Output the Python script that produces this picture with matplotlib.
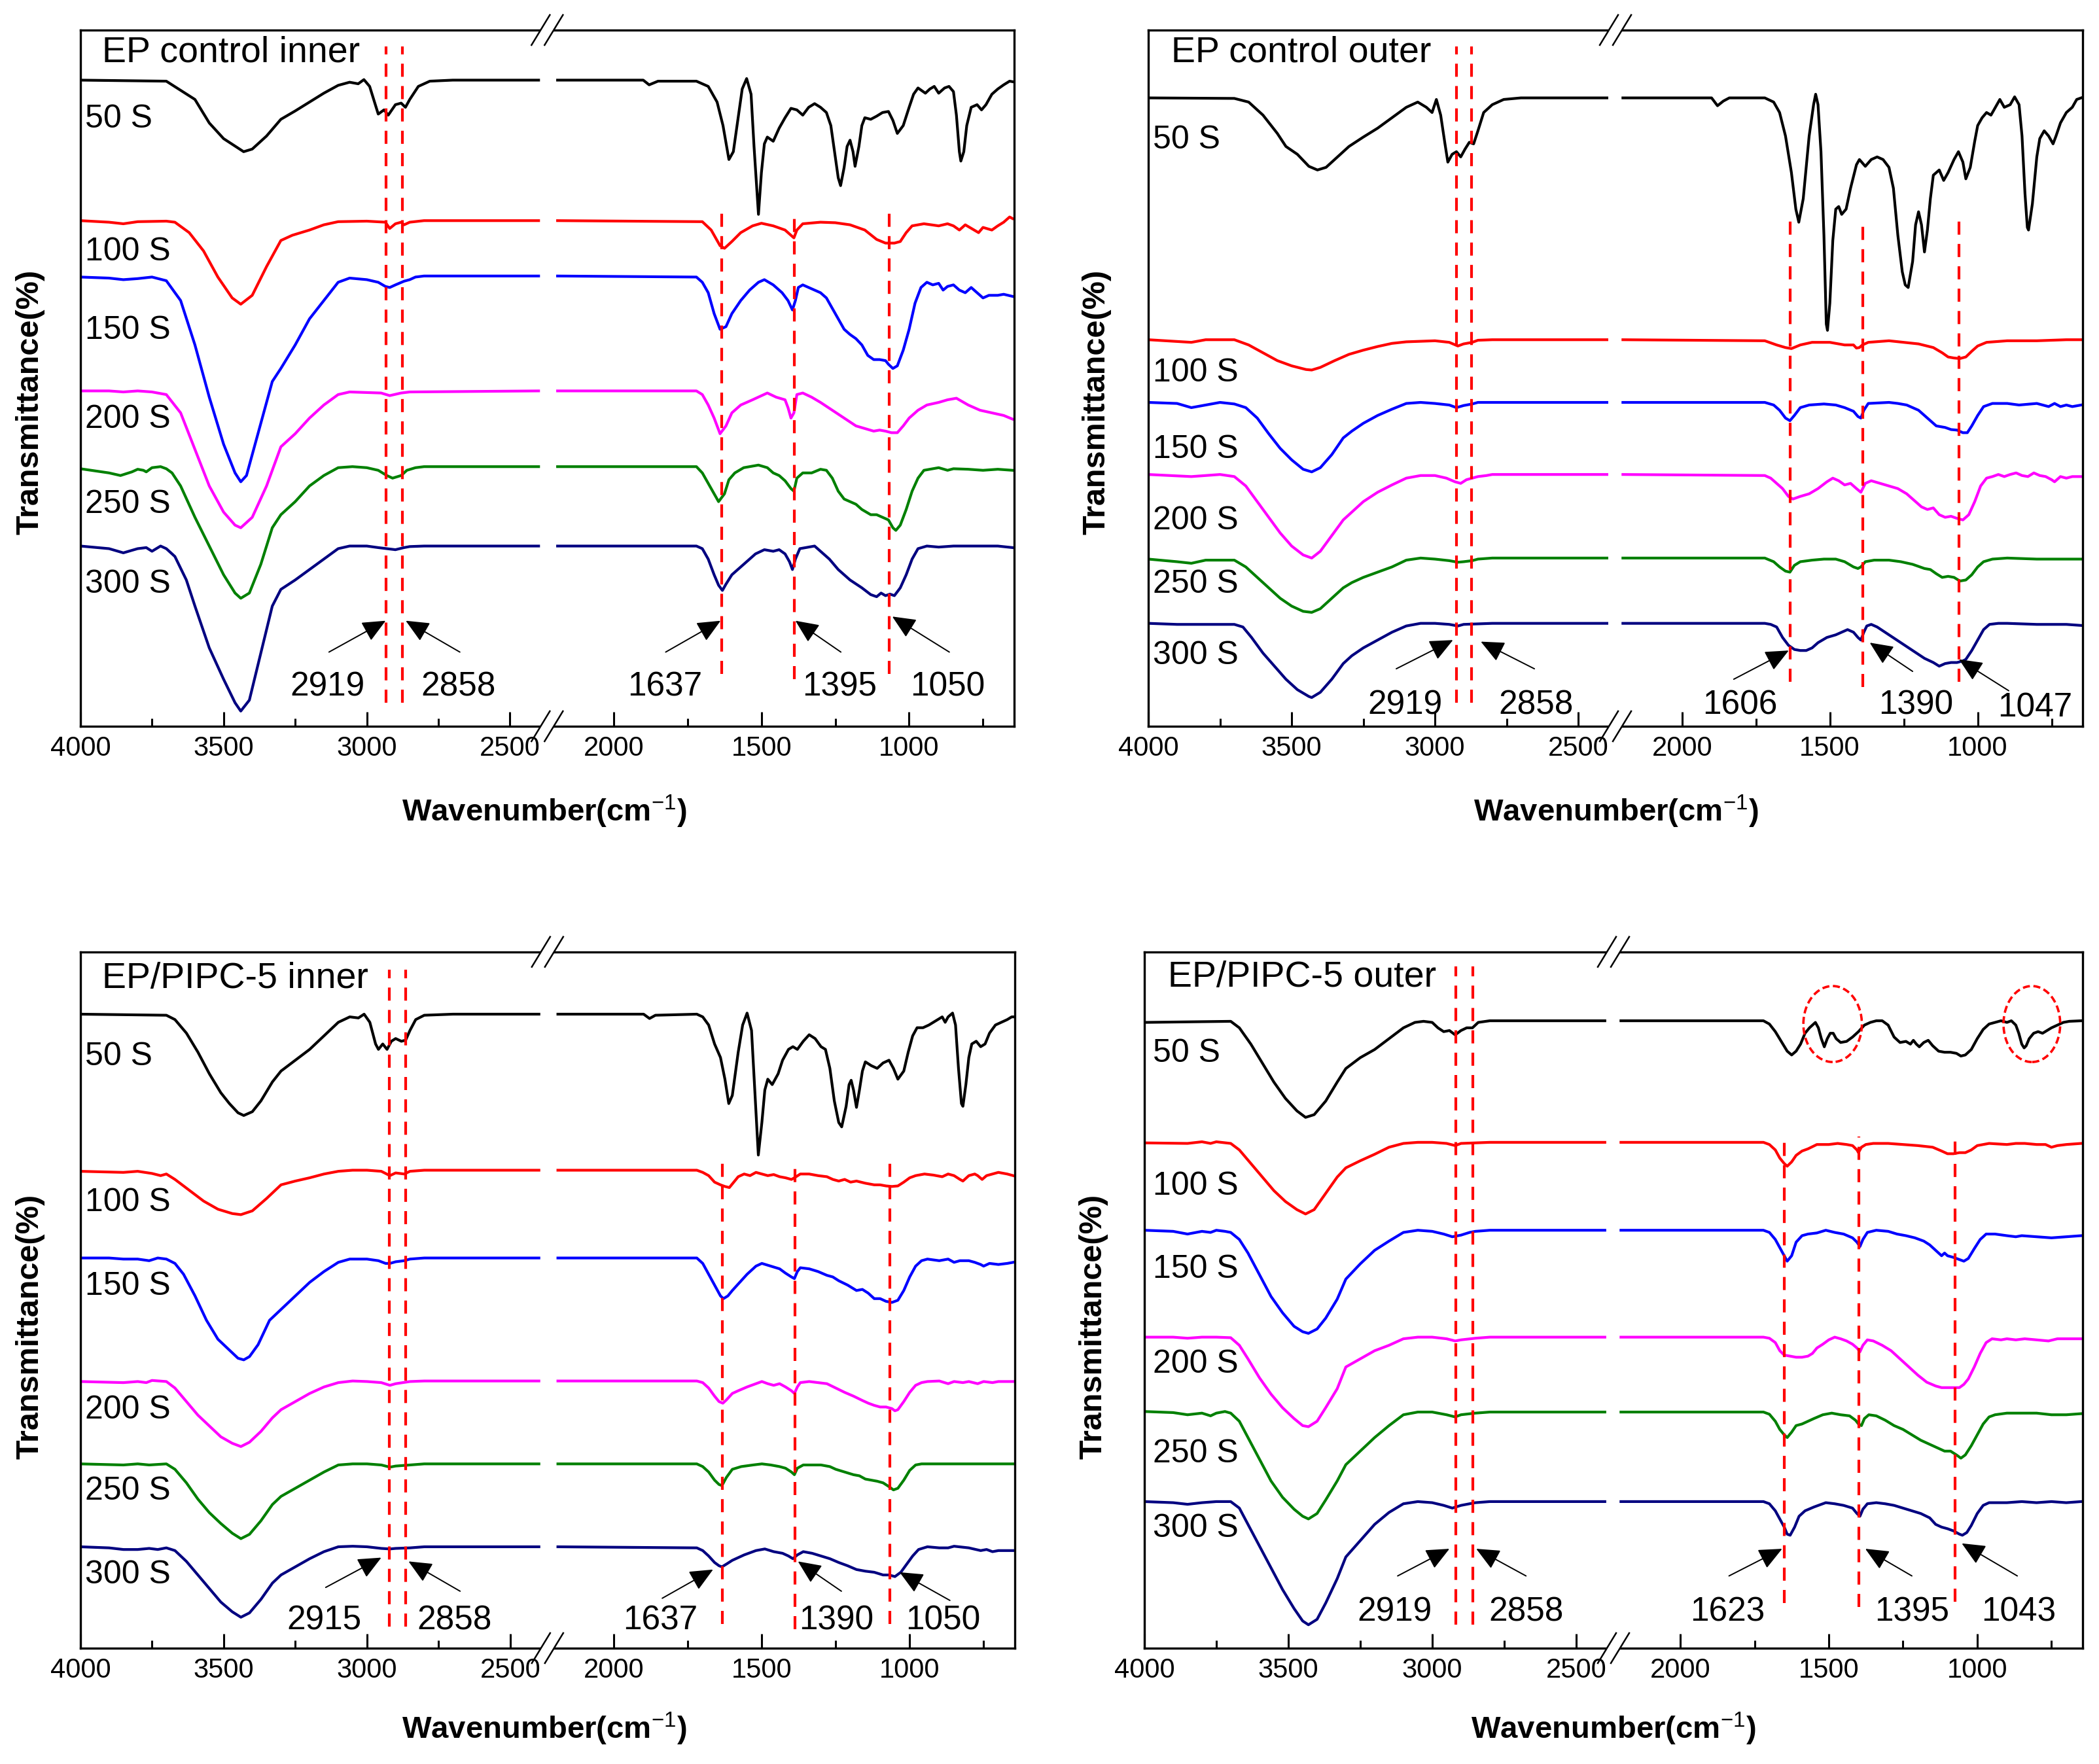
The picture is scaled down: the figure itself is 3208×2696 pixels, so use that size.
import matplotlib
matplotlib.use('Agg')
import matplotlib.pyplot as plt
import matplotlib.patches as mpatches

plt.rcParams['font.family'] = ['Liberation Sans', 'DejaVu Sans']
plt.rcParams['mathtext.fontset'] = 'custom'
plt.rcParams['mathtext.rm'] = 'Liberation Sans'
plt.rcParams['mathtext.it'] = 'Liberation Sans:italic'
plt.rcParams['mathtext.bf'] = 'Liberation Sans:bold'

####################### spectra (wavenumber, transmittance a.u.) #######################
samples = ['50 S', '100 S', '150 S', '200 S', '250 S', '300 S']
colors = ['black', 'red', 'blue', 'magenta', 'green', 'navy']

# EP control inner
ci_50 = [(4000,1237),(3700,1235),(3600,1200),(3550,1155),(3500,1125),(3430,1100),(3400,1105),(3350,1130),(3300,1162),(3250,1178),(3200,1195),(3150,1212),(3100,1227),(3060,1233),(3030,1230),(3010,1238),(2990,1225),(2960,1172),(2940,1180),(2925,1170),(2900,1190),(2880,1193),(2865,1185),(2850,1200),(2820,1225),(2780,1235),(2700,1237),(2400,1237),
         (2190,1237),(1900,1237),(1880,1228),(1850,1235),(1720,1235),(1680,1225),(1650,1195),(1630,1150),(1610,1085),(1595,1100),(1580,1160),(1565,1220),(1550,1240),(1535,1210),(1525,1110),(1510,980),(1500,1060),(1490,1115),(1480,1128),(1460,1120),(1440,1145),(1420,1165),(1400,1183),(1380,1180),(1360,1170),(1340,1185),(1320,1192),(1300,1185),(1280,1175),(1265,1150),(1250,1090),(1240,1050),(1232,1035),(1220,1070),(1210,1110),(1200,1122),(1190,1100),(1183,1072),(1170,1110),(1160,1150),(1150,1165),(1130,1162),(1110,1168),(1090,1175),(1070,1177),(1055,1160),(1040,1135),(1020,1150),(1000,1185),(985,1210),(970,1222),(960,1218),(945,1212),(930,1220),(915,1225),(900,1212),(880,1222),(865,1225),(850,1215),(840,1170),(830,1100),(825,1082),(815,1100),(805,1150),(790,1185),(770,1190),(755,1180),(740,1190),(720,1210),(700,1220),(680,1228),(660,1235),(650,1234)]
ci_100 = [(4000,968),(3900,965),(3850,962),(3800,966),(3700,967),(3670,965),(3620,945),(3570,910),(3520,860),(3470,820),(3440,808),(3400,825),(3350,880),(3300,930),(3260,940),(3200,950),(3150,960),(3100,966),(3000,967),(2935,965),(2920,953),(2900,962),(2880,965),(2870,960),(2850,965),(2800,968),(2400,968),
          (2190,968),(1700,966),(1670,950),(1640,920),(1625,915),(1600,928),(1570,945),(1530,958),(1500,963),(1460,958),(1420,950),(1400,940),(1390,935),(1380,950),(1360,962),(1300,965),(1250,964),(1200,960),(1150,950),(1110,932),(1080,925),(1050,925),(1030,928),(1010,945),(990,958),(950,962),(900,958),(870,962),(850,958),(830,950),(810,960),(780,950),(765,945),(750,955),(720,950),(700,958),(680,965),(660,975),(650,972)]
ci_150 = [(4000,860),(3900,858),(3850,855),(3800,857),(3750,860),(3700,853),(3650,815),(3600,730),(3550,630),(3500,540),(3460,485),(3440,468),(3420,480),(3380,560),(3330,660),(3300,685),(3250,730),(3200,780),(3150,815),(3100,850),(3060,858),(3000,855),(2960,850),(2935,842),(2920,840),(2900,845),(2870,852),(2850,855),(2830,860),(2800,862),(2400,862),
          (2190,862),(1720,860),(1700,850),(1680,830),(1660,790),(1640,760),(1620,765),(1600,790),(1570,815),(1540,835),(1510,850),(1490,855),(1460,845),(1430,830),(1410,815),(1395,797),(1385,815),(1375,840),(1360,845),(1340,840),(1320,835),(1300,830),(1280,820),(1260,800),(1240,780),(1220,760),(1200,750),(1180,742),(1160,730),(1140,710),(1120,702),(1100,702),(1080,700),(1070,693),(1055,685),(1040,690),(1020,720),(1000,760),(980,810),(960,840),(940,850),(920,845),(900,848),(885,835),(870,842),(850,845),(830,835),(810,830),(790,840),(770,830),(750,820),(730,825),(700,825),(680,827),(650,823)]
ci_200 = [(4000,642),(3900,642),(3850,640),(3800,642),(3750,640),(3700,635),(3650,600),(3600,530),(3550,460),(3500,410),(3460,385),(3440,380),(3400,400),(3350,460),(3300,535),(3250,560),(3200,590),(3150,615),(3100,635),(3060,640),(2950,638),(2920,633),(2880,638),(2850,640),(2400,642),
          (2190,642),(1720,642),(1700,635),(1680,615),(1660,590),(1640,560),(1620,575),(1600,600),(1570,615),(1530,625),(1480,638),(1450,630),(1420,625),(1410,610),(1400,590),(1390,600),(1380,635),(1360,638),(1330,630),(1300,620),(1260,605),(1220,590),(1180,575),(1150,570),(1120,565),(1100,567),(1080,565),(1060,562),(1040,562),(1020,575),(1000,590),(970,605),(940,615),(900,620),(870,625),(840,628),(800,615),(760,605),(720,600),(680,595),(650,588)]
ci_250 = [(4000,493),(3900,485),(3860,480),(3820,487),(3800,492),(3780,490),(3770,487),(3750,495),(3720,497),(3700,493),(3680,485),(3650,460),(3600,400),(3550,345),(3500,290),(3460,255),(3440,245),(3410,255),(3370,310),(3330,380),(3300,405),(3250,430),(3200,460),(3150,480),(3100,495),(3050,497),(3000,495),(2960,490),(2930,480),(2910,475),(2880,480),(2860,490),(2830,495),(2800,497),(2400,497),
          (2190,497),(1720,497),(1700,485),(1680,465),(1660,445),(1645,430),(1625,445),(1610,472),(1590,485),(1560,495),(1510,500),(1480,495),(1460,485),(1440,480),(1420,470),(1400,455),(1390,450),(1380,475),(1360,485),(1330,485),(1300,492),(1280,490),(1260,475),(1240,450),(1220,435),(1200,430),(1180,425),(1160,415),(1130,405),(1110,405),(1090,400),(1070,395),(1055,380),(1045,375),(1030,385),(1010,415),(990,450),(970,475),(950,490),(930,492),(900,495),(870,490),(850,493),(800,492),(750,490),(700,492),(650,490)]
ci_300 = [(4000,345),(3900,340),(3850,332),(3800,340),(3770,342),(3750,335),(3720,345),(3700,340),(3670,325),(3630,280),(3600,230),(3550,150),(3500,90),(3460,45),(3440,29),(3410,50),(3370,140),(3330,230),(3300,262),(3250,280),(3200,300),(3150,320),(3100,340),(3060,345),(3000,345),(2960,342),(2930,340),(2900,338),(2870,342),(2850,344),(2800,345),(2400,345),
          (2190,345),(1720,345),(1700,340),(1680,320),(1660,290),(1645,270),(1632,260),(1620,272),(1600,290),(1580,300),(1550,315),(1520,330),(1490,338),(1460,335),(1440,338),(1420,330),(1405,315),(1395,300),(1385,320),(1370,340),(1350,342),(1320,345),(1300,335),(1270,320),(1240,300),(1200,280),(1160,265),(1130,252),(1110,248),(1095,255),(1080,250),(1065,253),(1050,250),(1030,265),(1010,290),(990,320),(970,340),(940,345),(900,343),(850,345),(800,345),(750,345),(700,345),(650,342)]

# EP control outer
co_50 = [(4000,1203),(3700,1202),(3650,1195),(3600,1170),(3550,1135),(3520,1110),(3480,1095),(3440,1072),(3410,1065),(3380,1070),(3350,1085),(3300,1110),(3250,1128),(3200,1145),(3150,1165),(3100,1185),(3060,1195),(3030,1185),(3010,1175),(2995,1200),(2980,1170),(2965,1115),(2955,1080),(2940,1095),(2925,1100),(2910,1090),(2895,1105),(2880,1118),(2865,1115),(2850,1140),(2830,1175),(2800,1190),(2760,1200),(2700,1203),(2400,1203),
         (2200,1203),(1900,1203),(1880,1188),(1860,1197),(1840,1203),(1720,1203),(1690,1195),(1670,1175),(1650,1130),(1630,1060),(1615,990),(1605,965),(1590,1010),(1570,1130),(1555,1190),(1548,1210),(1540,1190),(1530,1100),(1520,940),(1512,770),(1508,758),(1500,810),(1490,930),(1480,990),(1470,995),(1460,980),(1445,990),(1430,1030),(1410,1075),(1400,1085),(1380,1072),(1360,1085),(1340,1090),(1320,1085),(1300,1070),(1285,1030),(1270,940),(1255,870),(1245,845),(1235,840),(1220,890),(1210,960),(1200,985),(1190,960),(1180,908),(1170,950),(1160,1010),(1150,1055),(1130,1065),(1115,1045),(1100,1060),(1080,1085),(1065,1100),(1050,1080),(1040,1048),(1025,1070),(1010,1120),(1000,1150),(985,1165),(970,1175),(955,1170),(940,1185),(925,1200),(910,1185),(890,1190),(875,1205),(860,1190),(850,1130),(840,1020),(832,955),(828,950),(815,1000),(800,1090),(790,1125),(775,1140),(760,1130),(745,1115),(735,1130),(720,1155),(700,1175),(680,1185),(665,1200),(650,1203)]
co_100 = [(4000,740),(3850,735),(3800,740),(3700,740),(3650,730),(3600,715),(3550,700),(3500,690),(3450,683),(3430,682),(3400,687),(3350,700),(3300,712),(3250,720),(3200,727),(3150,733),(3100,736),(3000,738),(2950,735),(2920,728),(2900,732),(2870,735),(2850,739),(2800,740),(2400,740),
          (2200,740),(1720,738),(1700,734),(1680,730),(1650,725),(1630,723),(1600,730),(1560,735),(1500,735),(1450,730),(1420,730),(1410,724),(1400,725),(1390,730),(1370,735),(1300,738),(1250,735),(1200,732),(1150,725),(1120,715),(1100,707),(1080,705),(1060,704),(1040,707),(1020,718),(1000,728),(970,735),(900,738),(800,738),(700,740),(650,740)]
co_150 = [(4000,620),(3900,618),(3850,610),(3800,615),(3750,620),(3700,617),(3660,610),(3620,590),(3580,560),(3540,532),(3500,510),(3460,492),(3430,487),(3400,495),(3360,520),(3320,552),(3290,565),(3250,580),(3200,595),(3150,607),(3100,618),(3050,620),(3000,618),(2950,615),(2925,610),(2900,614),(2870,617),(2850,620),(2400,620),
          (2200,620),(1720,620),(1690,615),(1670,605),(1650,590),(1635,585),(1620,595),(1600,610),(1570,615),(1520,617),(1480,615),(1450,610),(1420,603),(1405,593),(1395,590),(1385,605),(1370,618),(1300,620),(1270,618),(1240,615),(1200,605),(1170,590),(1140,575),(1110,572),(1090,568),(1070,567),(1050,562),(1035,562),(1020,575),(1000,595),(980,612),(950,618),(900,618),(860,615),(800,618),(760,612),(740,618),(720,612),(700,615),(680,612),(650,615)]
co_200 = [(4000,482),(3850,478),(3800,480),(3750,482),(3700,478),(3660,460),(3620,430),(3580,400),(3540,370),(3500,345),(3460,328),(3430,322),(3400,335),(3360,365),(3320,395),(3290,410),(3250,430),(3200,448),(3150,462),(3100,475),(3050,480),(3000,480),(2960,475),(2930,468),(2910,465),(2890,472),(2870,475),(2850,478),(2820,480),(2800,482),(2400,482),
          (2200,482),(1720,480),(1700,475),(1680,465),(1660,455),(1640,440),(1625,435),(1600,440),(1570,445),(1540,455),(1510,468),(1490,475),(1470,470),(1450,462),(1430,465),(1410,455),(1395,448),(1380,465),(1360,470),(1330,465),(1300,460),(1270,455),(1240,445),(1210,430),(1190,420),(1170,415),(1150,418),(1130,405),(1110,400),(1090,402),(1070,398),(1050,395),(1030,405),(1010,430),(990,460),(970,475),(950,478),(930,482),(910,478),(890,482),(870,485),(850,480),(830,478),(810,485),(790,480),(770,478),(750,472),(740,468),(720,478),(700,475),(680,478),(650,478)]
co_250 = [(4000,320),(3900,315),(3850,312),(3800,318),(3750,318),(3700,318),(3660,305),(3620,285),(3580,265),(3540,245),(3500,230),(3460,220),(3430,218),(3400,225),(3360,245),(3320,265),(3290,275),(3250,285),(3200,295),(3150,305),(3100,318),(3050,322),(3000,320),(2950,317),(2920,314),(2900,315),(2870,317),(2850,320),(2800,322),(2400,322),
          (2200,322),(1720,322),(1690,315),(1670,305),(1650,297),(1635,295),(1620,308),(1600,315),(1560,318),(1520,320),(1480,320),(1450,315),(1420,305),(1405,302),(1395,305),(1380,315),(1350,318),(1300,318),(1260,315),(1220,310),(1180,302),(1160,300),(1140,292),(1120,285),(1100,287),(1080,285),(1060,278),(1040,280),(1020,290),(1000,305),(980,315),(950,320),(900,322),(800,320),(700,320),(650,320)]
co_300 = [(4000,197),(3900,195),(3800,195),(3700,195),(3670,190),(3640,170),(3600,140),(3560,115),(3520,90),(3480,70),(3440,57),(3430,55),(3400,65),(3360,90),(3320,120),(3290,135),(3250,150),(3200,165),(3150,180),(3100,192),(3050,197),(3000,197),(2950,195),(2920,192),(2900,195),(2800,197),(2400,197),
          (2200,197),(1720,197),(1700,195),(1680,190),(1660,170),(1640,155),(1620,147),(1600,145),(1580,145),(1560,150),(1540,160),(1510,170),(1480,175),(1460,180),(1440,185),(1420,180),(1405,170),(1395,165),(1385,180),(1375,192),(1360,195),(1340,190),(1300,175),(1260,160),(1220,145),(1180,130),(1150,122),(1130,115),(1110,120),(1090,122),(1070,122),(1050,125),(1040,128),(1020,145),(1000,165),(980,185),(960,195),(930,197),(900,197),(800,195),(700,195),(650,193)]

# EP/PIPC-5 inner
pi_50 = [(4000,1170),(3700,1168),(3670,1160),(3630,1135),(3590,1100),(3550,1060),(3510,1025),(3480,1005),(3450,988),(3430,983),(3400,990),(3370,1010),(3330,1045),(3300,1065),(3250,1085),(3200,1105),(3150,1130),(3100,1155),(3060,1165),(3030,1163),(3010,1170),(2990,1155),(2970,1115),(2960,1105),(2945,1115),(2930,1105),(2915,1120),(2900,1125),(2880,1120),(2865,1122),(2850,1140),(2830,1160),(2800,1168),(2700,1170),(2400,1170),
         (2190,1170),(1900,1170),(1880,1162),(1860,1168),(1720,1170),(1700,1165),(1680,1150),(1660,1115),(1640,1090),(1625,1050),(1612,1005),(1600,1020),(1580,1100),(1565,1150),(1550,1172),(1535,1140),(1525,1040),(1512,910),(1500,970),(1490,1030),(1480,1050),(1465,1040),(1445,1060),(1430,1085),(1410,1105),(1395,1110),(1380,1105),(1360,1120),(1340,1132),(1320,1125),(1300,1110),(1285,1105),(1270,1070),(1255,1010),(1240,970),(1230,962),(1215,1000),(1205,1040),(1198,1048),(1190,1030),(1180,998),(1170,1030),(1160,1065),(1150,1082),(1130,1075),(1110,1070),(1090,1080),(1070,1085),(1055,1070),(1040,1050),(1020,1065),(1005,1100),(990,1130),(975,1145),(955,1145),(935,1150),(920,1155),(905,1160),(890,1165),(880,1155),(870,1165),(855,1172),(845,1150),(835,1070),(825,1005),(820,1000),(810,1040),(800,1090),(790,1115),(775,1120),(760,1110),(745,1115),(730,1135),(710,1150),(690,1155),(670,1160),(655,1165),(650,1165)]
pi_100 = [(4000,880),(3850,878),(3800,880),(3750,876),(3720,872),(3700,875),(3670,865),(3620,845),(3570,825),(3520,810),(3470,802),(3440,800),(3400,807),(3350,830),(3300,855),(3250,862),(3200,868),(3150,875),(3100,880),(3050,882),(3000,882),(2950,880),(2920,872),(2900,877),(2870,875),(2850,880),(2800,882),(2400,882),
          (2190,882),(1720,882),(1700,878),(1680,872),(1660,860),(1640,855),(1625,852),(1610,850),(1595,860),(1580,870),(1560,875),(1540,872),(1520,878),(1500,875),(1480,872),(1460,874),(1440,870),(1420,868),(1400,865),(1390,868),(1370,875),(1340,875),(1310,872),(1280,870),(1260,865),(1240,862),(1220,865),(1200,860),(1180,862),(1150,858),(1120,855),(1100,855),(1080,853),(1060,852),(1040,853),(1020,860),(1000,868),(980,872),(950,875),(920,873),(890,870),(870,875),(850,872),(830,865),(820,862),(800,872),(780,875),(770,872),(755,865),(740,872),(720,875),(700,878),(670,875),(650,872)]
pi_150 = [(4000,720),(3900,720),(3850,718),(3800,718),(3760,715),(3730,720),(3700,718),(3670,710),(3640,690),(3600,650),(3560,605),(3520,570),(3480,550),(3450,535),(3430,532),(3410,538),(3380,560),(3340,605),(3300,625),(3250,650),(3200,675),(3150,695),(3100,712),(3060,718),(3000,718),(2960,715),(2935,710),(2920,710),(2900,713),(2870,715),(2850,718),(2800,720),(2400,720),
          (2190,720),(1720,720),(1700,710),(1680,690),(1660,670),(1640,650),(1630,645),(1615,650),(1600,660),(1580,672),(1550,690),(1520,705),(1500,710),(1470,705),(1440,700),(1420,692),(1400,685),(1390,682),(1380,695),(1370,702),(1340,700),(1310,695),(1280,688),(1260,685),(1240,678),(1210,670),(1180,660),(1160,662),(1140,655),(1120,645),(1100,645),(1080,640),(1060,638),(1040,642),(1020,660),(1000,685),(980,705),(960,715),(940,718),(900,715),(870,718),(850,712),(830,715),(800,715),(780,712),(760,708),(750,705),(730,710),(700,708),(670,710),(650,712)]
pi_200 = [(4000,492),(3850,490),(3800,492),(3770,490),(3750,494),(3700,492),(3670,480),(3630,455),(3590,430),(3550,410),(3510,390),(3470,378),(3440,372),(3410,380),(3370,400),(3330,425),(3300,440),(3250,455),(3200,470),(3150,482),(3100,490),(3050,493),(3000,492),(2950,490),(2920,485),(2900,488),(2850,492),(2800,493),(2400,493),
          (2190,493),(1720,493),(1700,490),(1680,480),(1660,465),(1645,455),(1632,452),(1620,458),(1600,470),(1580,475),(1550,482),(1520,488),(1500,492),(1480,488),(1460,485),(1440,488),(1420,482),(1400,475),(1390,470),(1380,482),(1370,490),(1340,492),(1310,490),(1280,488),(1250,480),(1220,472),(1190,465),(1160,457),(1140,452),(1120,448),(1100,445),(1080,445),(1060,442),(1050,438),(1040,440),(1020,455),(1000,472),(980,485),(960,490),(940,492),(900,493),(870,488),(850,492),(820,490),(800,492),(770,488),(750,492),(720,490),(700,492),(650,492)]
pi_250 = [(4000,340),(3850,338),(3800,340),(3760,338),(3700,340),(3670,330),(3630,305),(3590,275),(3550,250),(3510,230),(3470,212),(3440,202),(3410,210),(3370,235),(3330,265),(3300,280),(3250,295),(3200,310),(3150,325),(3100,338),(3050,340),(3000,340),(2950,338),(2920,334),(2900,336),(2850,338),(2800,340),(2400,340),
          (2190,340),(1720,340),(1700,335),(1680,325),(1660,310),(1645,302),(1635,300),(1620,315),(1600,330),(1570,335),(1530,338),(1500,340),(1470,338),(1440,335),(1420,332),(1400,325),(1390,320),(1380,332),(1360,338),(1330,338),(1300,338),(1270,335),(1250,330),(1220,325),(1190,320),(1170,318),(1150,312),(1130,310),(1110,308),(1090,305),(1070,298),(1055,292),(1040,295),(1020,310),(1000,328),(980,338),(960,340),(900,340),(800,340),(700,340),(650,340)]
pi_300 = [(4000,187),(3900,185),(3850,182),(3800,182),(3760,184),(3730,182),(3700,185),(3670,180),(3630,160),(3590,135),(3550,110),(3510,85),(3470,67),(3440,57),(3410,65),(3370,90),(3330,120),(3300,135),(3250,150),(3200,165),(3150,178),(3100,187),(3050,188),(3000,187),(2950,184),(2920,183),(2900,184),(2850,185),(2800,187),(2400,187),
          (2190,187),(1720,185),(1700,180),(1680,170),(1660,158),(1645,152),(1635,150),(1620,155),(1600,162),(1560,172),(1520,180),(1490,183),(1460,178),(1430,175),(1410,170),(1395,165),(1380,172),(1360,178),(1330,175),(1300,170),(1270,165),(1240,158),(1210,152),(1180,145),(1150,142),(1120,140),(1090,135),(1070,135),(1050,132),(1030,140),(1010,155),(990,170),(970,182),(940,187),(900,185),(870,185),(850,188),(800,185),(760,180),(740,182),(720,178),(700,180),(650,180)]

# EP/PIPC-5 outer
po_50 = [(4000,1153),(3700,1155),(3670,1143),(3630,1113),(3590,1078),(3550,1043),(3510,1013),(3470,990),(3440,978),(3410,983),(3370,1008),(3330,1043),(3300,1068),(3250,1088),(3200,1103),(3150,1123),(3100,1143),(3060,1153),(3030,1155),(3000,1153),(2980,1143),(2960,1136),(2940,1138),(2920,1130),(2900,1138),(2880,1143),(2860,1143),(2840,1153),(2800,1156),(2400,1156),
         (2200,1156),(1720,1156),(1700,1150),(1680,1136),(1660,1118),(1640,1100),(1625,1093),(1610,1100),(1595,1113),(1580,1133),(1565,1143),(1555,1148),(1545,1153),(1535,1143),(1525,1123),(1515,1108),(1505,1123),(1495,1133),(1485,1133),(1475,1123),(1460,1116),(1440,1118),(1420,1126),(1400,1136),(1380,1148),(1360,1153),(1340,1156),(1320,1156),(1300,1148),(1280,1126),(1260,1116),(1240,1118),(1225,1113),(1215,1120),(1205,1113),(1195,1108),(1180,1116),(1165,1120),(1150,1110),(1130,1100),(1110,1098),(1090,1098),(1070,1096),(1055,1091),(1040,1093),(1020,1103),(1000,1123),(980,1140),(960,1150),(940,1153),(920,1156),(900,1153),(885,1156),(870,1148),(860,1133),(850,1113),(842,1106),(835,1110),(825,1123),(810,1133),(795,1136),(780,1133),(765,1138),(750,1143),(730,1148),(710,1153),(690,1155),(650,1156)]
po_100 = [(4000,931),(3850,930),(3800,933),(3770,930),(3750,933),(3700,930),(3670,918),(3630,893),(3590,868),(3550,843),(3510,823),(3470,808),(3440,800),(3410,808),(3370,838),(3330,868),(3300,885),(3250,898),(3200,910),(3150,923),(3100,930),(3050,932),(3000,932),(2950,930),(2920,926),(2900,930),(2850,931),(2800,932),(2400,932),
          (2200,932),(1720,932),(1700,928),(1680,918),(1665,903),(1650,893),(1640,888),(1625,896),(1610,908),(1590,916),(1570,920),(1540,928),(1500,928),(1470,930),(1440,928),(1420,926),(1405,918),(1400,913),(1390,923),(1375,928),(1350,930),(1300,930),(1250,928),(1200,926),(1150,923),(1120,916),(1100,911),(1080,911),(1060,913),(1040,913),(1020,918),(1000,926),(960,930),(900,928),(870,930),(840,930),(800,928),(770,928),(750,923),(730,926),(700,928),(650,930)]
po_150 = [(4000,770),(3900,768),(3850,763),(3800,768),(3770,766),(3750,770),(3720,768),(3700,766),(3670,753),(3640,728),(3600,688),(3560,648),(3520,618),(3480,593),(3450,583),(3430,580),(3400,588),(3370,608),(3330,643),(3300,680),(3250,708),(3200,733),(3150,750),(3100,766),(3050,770),(3000,768),(2960,763),(2930,758),(2900,761),(2870,766),(2850,768),(2800,770),(2400,770),
          (2200,770),(1720,770),(1700,766),(1680,753),(1665,738),(1650,723),(1640,713),(1625,723),(1610,748),(1590,760),(1570,763),(1540,765),(1510,770),(1480,766),(1450,763),(1420,756),(1405,748),(1395,740),(1385,753),(1370,766),(1340,770),(1300,768),(1270,763),(1240,760),(1210,756),(1180,750),(1160,743),(1140,733),(1120,723),(1110,728),(1100,723),(1080,720),(1060,716),(1045,713),(1030,718),(1010,736),(990,753),(970,763),(940,763),(900,760),(870,758),(850,760),(800,758),(750,756),(700,758),(650,760)]
po_200 = [(4000,573),(3900,573),(3850,571),(3800,573),(3750,573),(3700,572),(3670,558),(3640,533),(3600,498),(3560,468),(3520,443),(3480,423),(3450,410),(3430,408),(3400,418),(3370,443),(3330,478),(3300,518),(3250,533),(3200,548),(3150,558),(3100,570),(3050,573),(3000,573),(2950,570),(2920,566),(2900,568),(2850,571),(2800,573),(2400,573),
          (2200,573),(1720,573),(1700,571),(1680,563),(1665,548),(1650,540),(1630,538),(1610,536),(1590,536),(1570,538),(1555,543),(1540,553),(1520,560),(1500,568),(1480,573),(1460,570),(1440,566),(1420,560),(1405,553),(1395,546),(1385,558),(1370,568),(1350,566),(1320,558),(1290,548),(1260,533),(1230,518),(1200,503),(1170,490),(1140,483),(1120,480),(1100,480),(1080,480),(1060,480),(1045,486),(1030,496),(1010,518),(990,543),(970,563),(950,570),(920,568),(900,570),(870,568),(840,570),(800,568),(760,566),(730,570),(700,570),(650,570)]
po_250 = [(4000,436),(3900,434),(3850,430),(3800,433),(3770,428),(3750,433),(3720,436),(3700,433),(3670,418),(3640,388),(3600,348),(3560,308),(3520,278),(3480,256),(3450,243),(3430,238),(3400,248),(3370,273),(3330,308),(3300,338),(3250,363),(3200,388),(3150,410),(3100,430),(3050,435),(3000,435),(2950,430),(2920,426),(2900,430),(2850,433),(2800,435),(2400,435),
          (2200,435),(1720,435),(1700,431),(1680,418),(1665,403),(1650,393),(1640,388),(1625,398),(1610,410),(1590,413),(1570,418),(1550,423),(1520,430),(1490,433),(1460,430),(1430,428),(1410,420),(1400,413),(1390,410),(1380,423),(1365,430),(1340,428),(1310,420),(1280,410),(1250,403),(1220,393),(1190,383),(1170,378),(1150,373),(1130,368),(1110,363),(1090,363),(1070,356),(1055,350),(1040,356),(1020,373),(1000,393),(980,413),(960,426),(940,430),(900,433),(850,433),(800,433),(750,430),(700,430),(650,432)]
po_300 = [(4000,270),(3900,268),(3850,265),(3800,268),(3750,270),(3700,270),(3670,258),(3640,228),(3600,188),(3560,148),(3520,108),(3480,73),(3450,50),(3430,43),(3400,53),(3370,83),(3330,128),(3300,168),(3250,198),(3200,228),(3150,250),(3100,266),(3050,270),(3000,268),(2960,263),(2930,258),(2900,263),(2870,266),(2850,268),(2800,270),(2400,270),
          (2200,270),(1720,270),(1700,266),(1680,253),(1665,238),(1650,223),(1640,210),(1630,208),(1615,223),(1600,243),(1580,253),(1550,260),(1510,268),(1480,266),(1450,263),(1420,258),(1405,248),(1395,243),(1385,256),(1370,266),(1340,268),(1310,266),(1280,263),(1250,258),(1220,253),(1190,248),(1160,240),(1140,228),(1120,223),(1100,220),(1080,216),(1060,210),(1050,208),(1035,213),(1020,226),(1000,248),(980,263),(960,268),(900,268),(850,270),(800,268),(750,270),(700,268),(650,270)]

# peak marks (wavenumber of dashed guide lines) and their labels
ci_lines = [2932, 2876, 1634, 1389, 1068]
co_lines = [2926, 2872, 1635, 1388, 1063]
pi_lines = [2922, 2866, 1634, 1389, 1068]
po_lines = [2917, 2859, 1650, 1399, 1074]
ci_peaks = ['2919', '2858', '1637', '1395', '1050']
co_peaks = ['2919', '2858', '1606', '1390', '1047']
pi_peaks = ['2915', '2858', '1637', '1390', '1050']
po_peaks = ['2919', '2858', '1623', '1395', '1043']
##########################################################################################

W_PX, H_PX = 3208, 2696
fig = plt.figure(figsize=(W_PX / 100, H_PX / 100), dpi=100)
LINE_STYLE = (0, (4.8, 3.4))


def break_marks(axr, half_w, h):
    ax_w = half_w * W_PX
    ax_h = h * H_PX
    sx = lambda p: p / ax_w
    sy = lambda p: p / ax_h
    for yb in (0, 1):
        gap = mpatches.Polygon([(sx(-15), yb + sy(-9)), (sx(5), yb + sy(-9)),
                                (sx(15), yb + sy(9)), (sx(-5), yb + sy(9))],
                               closed=True, transform=axr.transAxes, facecolor='white',
                               edgecolor='none', clip_on=False, zorder=5)
        axr.add_patch(gap)
        for off in (-10, 10):
            axr.plot([sx(off - 14), sx(off + 14)], [yb + sy(-23), yb + sy(23)],
                     transform=axr.transAxes, color='black', lw=1.8, clip_on=False, zorder=6)


def draw_panel(rect, ymax, curves, title, title_xy, label_x, label_y, lines, spans,
               peaks, arrows, peak_xy, ylab_xy, xlab_xy, ellipses=()):
    x0, y0, w, h = rect
    axl = fig.add_axes([x0, y0, w / 2, h])
    axr = fig.add_axes([x0 + w / 2, y0, w / 2, h])
    axl.set_xlim(4000, 2370)
    axr.set_xlim(2225, 645)
    axl.set_xticks([4000, 3500, 3000, 2500])
    axl.set_xticks([3750, 3250, 2750], minor=True)
    axr.set_xticks([2000, 1500, 1000])
    axr.set_xticks([1750, 1250, 750], minor=True)
    for ax in (axl, axr):
        ax.set_facecolor('none')
        ax.set_ylim(0, ymax)
        ax.set_yticks([])
        ax.tick_params(axis='x', which='major', direction='in', length=16, width=2.2,
                       labelsize=30, pad=10)
        ax.tick_params(axis='x', which='minor', direction='in', length=8.5, width=2.2)
        for s in ax.spines.values():
            s.set_linewidth(2.4)
    axl.spines['right'].set_visible(False)
    axr.spines['left'].set_visible(False)

    for pts, c in zip(curves, colors):
        left = [p for p in pts if p[0] > 2300]
        right = [p for p in pts if p[0] < 2300]
        axl.plot([p[0] for p in left], [p[1] for p in left], color=c, lw=3.0)
        axr.plot([p[0] for p in right], [p[1] for p in right], color=c, lw=3.0)

    for name, ly in zip(samples, label_y):
        axl.text(label_x, ly, name, fontsize=36, ha='left', va='center')
    axl.text(title_xy[0], title_xy[1], title, fontsize=40, ha='left', va='center')

    for xv, (ya, yb) in zip(lines, spans):
        ax = axl if xv > 2300 else axr
        ax.plot([xv, xv], [ya, yb], color='red', lw=3.0, ls=LINE_STYLE, zorder=3)

    for txt, (tail, tip), pxy in zip(peaks, arrows, peak_xy):
        ax = axl if tail[0] > 2300 else axr
        ax.annotate('', xy=tip, xytext=tail,
                    arrowprops=dict(arrowstyle='-|>,head_length=1.0,head_width=0.45',
                                    mutation_scale=22, color='black', lw=1.4,
                                    shrinkA=0, shrinkB=0))
        ax.text(pxy[0], pxy[1], txt, fontsize=37, ha='center', va='center')

    for ex, ey, ew, eh in ellipses:
        axr.add_patch(mpatches.Ellipse((ex, ey), ew, eh, fill=False, edgecolor='red',
                                       lw=2.6, ls=(0, (3, 1.5)), zorder=4))

    break_marks(axr, w / 2, h)
    fig.text(ylab_xy[0], ylab_xy[1], 'Transmittance(%)', rotation=90, fontsize=35,
             fontweight='bold', ha='center', va='center')
    fig.text(xlab_xy[0], xlab_xy[1], r'Wavenumber(cm$^{-1}$)', fontsize=34,
             fontweight='bold', ha='center', va='center')


draw_panel([0.0383, 0.5883, 0.4448, 0.3947], 1333,
           [ci_50, ci_100, ci_150, ci_200, ci_250, ci_300],
           'EP control inner', (3925, 1290), 3984, [1162, 908, 758, 587, 425, 272],
           ci_lines, [(45, 1302), (45, 1302), (100, 985), (90, 975), (100, 985)],
           ci_peaks,
           [((3132, 142), (2934, 202)), ((2675, 142), (2864, 202)), ((1824, 142), (1638, 202)),
            ((1231, 142), (1385, 202)), ((864, 142), (1057, 210))],
           [(3137, 75), (2680, 75), (1826, 75), (1235, 75), (869, 75)],
           (0.0143, 0.772), (0.2594, 0.540))

draw_panel([0.5471, 0.5883, 0.4451, 0.3947], 1333,
           [co_50, co_100, co_150, co_200, co_250, co_300],
           'EP control outer', (3921, 1290), 3984, [1122, 677, 530, 393, 272, 135],
           co_lines, [(45, 1302), (45, 1302), (85, 970), (75, 960), (85, 970)],
           co_peaks,
           [((3135, 110), (2937, 165)), ((2653, 110), (2840, 162)), ((1825, 90), (1639, 145)),
            ((1220, 105), (1365, 160)), ((895, 68), (1063, 128))],
           [(3105, 40), (2647, 40), (1803, 40), (1209, 40), (805, 35)],
           (0.5224, 0.772), (0.770, 0.540))

draw_panel([0.0383, 0.0657, 0.4451, 0.3947], 1285,
           [pi_50, pi_100, pi_150, pi_200, pi_250, pi_300],
           'EP/PIPC-5 inner', (3925, 1235), 3984, [1092, 822, 668, 440, 290, 135],
           pi_lines, [(40, 1252), (40, 1252), (45, 900), (35, 890), (45, 900)],
           pi_peaks,
           [((3144, 112), (2950, 167)), ((2675, 105), (2855, 160)), ((1837, 92), (1665, 145)),
            ((1231, 105), (1378, 160)), ((864, 88), (1034, 140))],
           [(3149, 50), (2694, 50), (1844, 50), (1249, 50), (887, 50)],
           (0.0143, 0.2481), (0.2594, 0.020))

draw_panel([0.5452, 0.0657, 0.4470, 0.3947], 1283,
           [po_50, po_100, po_150, po_200, po_250, po_300],
           'EP/PIPC-5 outer', (3919, 1236), 3970, [1096, 851, 698, 523, 358, 220],
           po_lines, [(43, 1256), (43, 1256), (83, 943), (76, 943), (86, 943)],
           po_peaks,
           [((3120, 133), (2940, 183)), ((2674, 133), (2847, 183)), ((1836, 133), (1657, 183)),
            ((1220, 133), (1377, 183)), ((865, 133), (1052, 193))],
           [(3130, 66), (2674, 66), (1841, 66), (1220, 66), (861, 66)],
           (0.5209, 0.2481), (0.7687, 0.020),
           ellipses=[(1487, 1150, 197, 140), (816, 1150, 191, 140)])

plt.savefig('out.png', dpi=100)
